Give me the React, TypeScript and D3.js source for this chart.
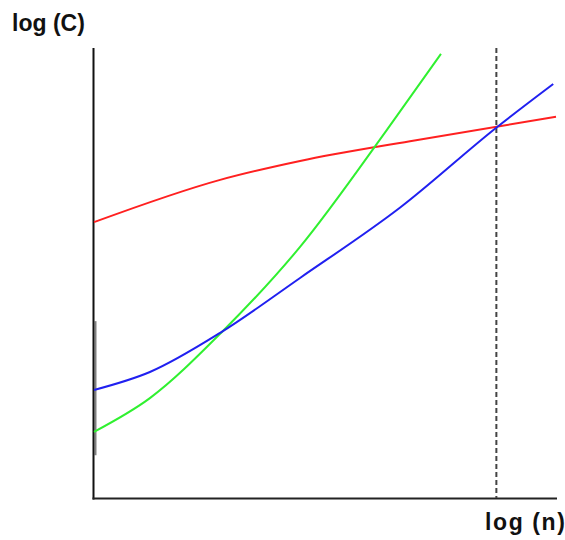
import React from "react";
import * as d3 from "d3";

// x in [0,100] (log n), y in [0,100] (log C)
const redX = [0, 27.3, 44.6, 68.4, 100];
const redY = [61.3, 70.7, 74.9, 79.3, 84.7];

const blueX = [0, 12.1, 27.3, 44.6, 66.2, 87.2, 99.4];
const blueY = [24, 28, 36.7, 48.9, 64.5, 82.4, 92];

const greenX = [0, 12.1, 27.7, 44.6, 63.4, 75.1];
const greenY = [14.7, 22.2, 36.9, 55.8, 81.8, 98.7];

const dashedX = 87.2;
const grayBand = [9.5, 39.3];
const yLabel = "log (C)";
const xLabel = "log (n)";

export default function App() {
  const x = d3.scaleLinear().domain([0, 100]).range([94, 556]);
  const y = d3.scaleLinear().domain([0, 100]).range([498, 48]);
  const line = d3
    .line<[number, number]>()
    .x((d) => x(d[0]))
    .y((d) => y(d[1]))
    .curve(d3.curveMonotoneX);
  const pts = (xs: number[], ys: number[]) => xs.map((v, i) => [v, ys[i]] as [number, number]);
  const font = "'Liberation Sans', Arial, sans-serif";
  return (
    <svg
      width={565}
      height={540}
      style={{ position: "absolute", left: 0, top: 0, background: "#fff" }}
    >
      <line x1={x(0) + 1.5} x2={x(0) + 1.5} y1={y(grayBand[0])} y2={y(grayBand[1])} stroke="#808080" strokeWidth={2} />
      <line x1={x(0) - 0.5} x2={x(0) - 0.5} y1={y(100)} y2={y(0) + 1.5} stroke="#111" strokeWidth={2} />
      <line x1={x(0) - 1.5} x2={x(100) + 1} y1={y(0) + 0.5} y2={y(0) + 0.5} stroke="#222" strokeWidth={2} />
      <line
        x1={x(dashedX) - 0.5}
        x2={x(dashedX) - 0.5}
        y1={y(100)}
        y2={y(0)}
        stroke="#444"
        strokeWidth={2}
        strokeDasharray="5 3"
      />
      <path d={line(pts(redX, redY)) || ""} fill="none" stroke="#ff2020" strokeWidth={2} />
      <path d={line(pts(greenX, greenY)) || ""} fill="none" stroke="#30f030" strokeWidth={2} />
      <path d={line(pts(blueX, blueY)) || ""} fill="none" stroke="#2020f0" strokeWidth={2} />
      <text x={12} y={31} fontFamily={font} fontSize={23} fontWeight="bold" fill="#111">
        {yLabel}
      </text>
      <text x={485} y={530} fontFamily={font} fontSize={23} fontWeight="bold" fill="#111" letterSpacing={1.6}>
        {xLabel}
      </text>
    </svg>
  );
}
